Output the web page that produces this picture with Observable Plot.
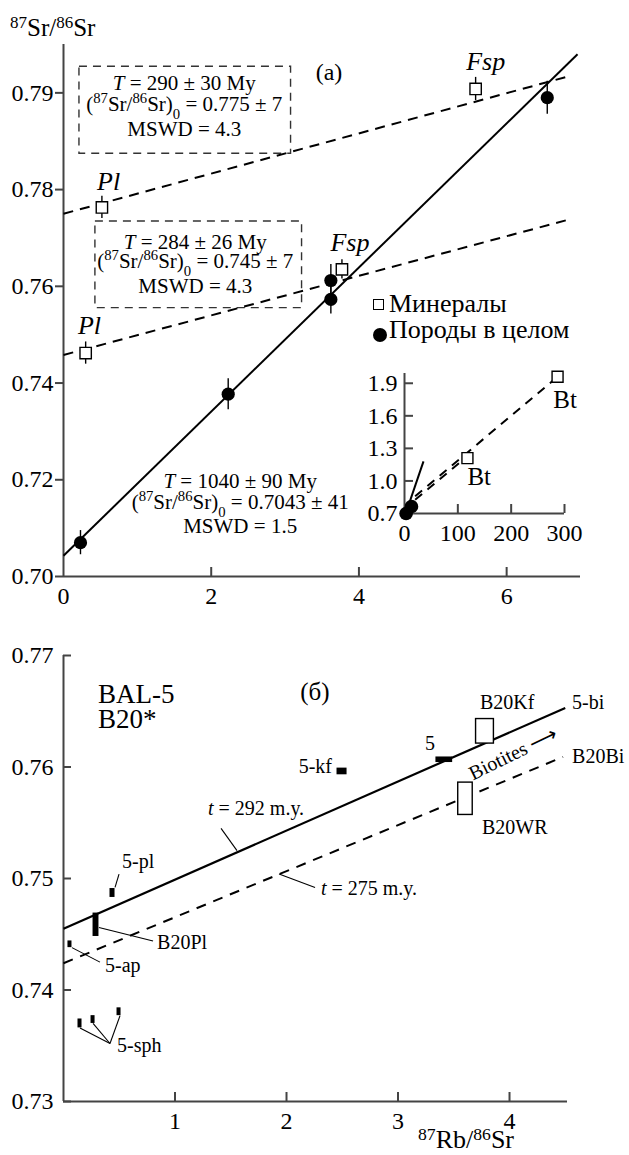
<!DOCTYPE html>
<html><head><meta charset="utf-8">
<script src="https://cdn.jsdelivr.net/npm/d3@7"></script>
<script src="https://cdn.jsdelivr.net/npm/@observablehq/plot@0.6"></script>
<style>
body{margin:0;background:#fff;}
#wrap{position:relative;width:629px;height:1155px;overflow:hidden;font-family:'Liberation Serif','Times New Roman',serif;color:#000;}
#wrap > *{position:absolute;}
.sup{font-size:0.68em;vertical-align:0.45em;line-height:0;}
.lg{font-size:26px;line-height:26px;white-space:nowrap;}
</style></head><body><div id="wrap"></div>
<script>
// ================= Panel (a): whole rocks & minerals =================
const rockX   = [0.23, 2.23, 3.62, 3.62, 6.55];
const rockY   = [0.7070, 0.7377, 0.7612, 0.7573, 0.7990];
const rockErr = [0.0025, 0.0032, 0.0033, 0.0030, 0.0034];

const minName = ["Pl", "Pl", "Fsp", "Fsp"];
const minX    = [0.52, 0.30, 3.77, 5.58];
const minY    = [0.7763, 0.7462, 0.7635, 0.8008];
const minErr  = [0.0023, 0.0023, 0.0020, 0.0024];
const minLabelX = [0.61, 0.351, 3.878, 5.716];
const minLabelY = [0.7800, 0.7501, 0.7674, 0.8047];

// isochrons (end points)
const isoKind = ["rock", "mineral", "mineral"];
const isoX1 = [0, 0, 0];
const isoY1 = [0.7043, 0.7750, 0.7458];
const isoX2 = [6.96, 6.81, 6.84];
const isoY2 = [0.8080, 0.8033, 0.7738];

// isochron result notes
const noteText = [
  "~{T} = 290 ± 30 My", "(^{87}Sr/^{86}Sr)_{0} = 0.775 ± 7", "MSWD = 4.3",
  "~{T} = 284 ± 26 My", "(^{87}Sr/^{86}Sr)_{0} = 0.745 ± 7", "MSWD = 4.3",
  "~{T} = 1040 ± 90 My", "(^{87}Sr/^{86}Sr)_{0} = 0.7043 ± 41", "MSWD = 1.5"];
const noteX = [1.635, 1.635, 1.635, 1.784, 1.784, 1.784, 2.392, 2.392, 2.392];
const noteY = [0.8006, 0.7963, 0.7911, 0.7678, 0.7637, 0.7586, 0.7184, 0.7140, 0.7089];
const boxX1 = [0.216, 0.432], boxX2 = [3.081, 3.230];
const boxY1 = [0.7874, 0.7555], boxY2 = [0.8054, 0.7734];

const aYTicks = [0.70, 0.72, 0.74, 0.76, 0.78, 0.80];
const aYTickLabels = ["0.70", "0.72", "0.74", "0.76", "0.78", "0.79"];
const aXLabels = [0, 2, 4, 6];
const aXTicks = [2, 4, 6];

// ================= Inset =================
const insRockX = [3, 13], insRockY = [0.70, 0.765];
const insBtX = [118, 287], insBtY = [1.21, 1.96];
const insBtLabelX = [118, 279], insBtLabelY = [0.959, 1.670];
const insKind = ["rock", "mineral", "mineral"];
const insX1 = [3, 20, 20], insY1 = [0.71, 0.827, 0.858];
const insX2 = [35.6, 108, 278], insY2 = [1.18, 1.188, 1.923];
const insYTicks = [0.7, 1.0, 1.3, 1.6, 1.9];
const insXLabels = [0, 100, 200, 300];
const insXTicks = [100, 200, 300];

// ================= Panel (б) =================
const bName   = ["5-pl", "B20Pl", "5-ap", "5-sph", "5-sph", "5-sph", "5-kf", "5", "B20Kf", "B20WR"];
const bX1     = [0.417, 0.265, 0.040, 0.130, 0.247, 0.480, 2.453, 3.340, 3.700, 3.540];
const bX2     = [0.462, 0.318, 0.076, 0.166, 0.283, 0.516, 2.543, 3.490, 3.860, 3.670];
const bY1     = [0.7483, 0.7448, 0.7438, 0.7366, 0.7370, 0.7377, 0.7593, 0.7604, 0.7621, 0.7557];
const bY2     = [0.7491, 0.7469, 0.7444, 0.7374, 0.7377, 0.7384, 0.7599, 0.7609, 0.7643, 0.7586];
const bFilled = [true, true, true, true, true, true, true, true, false, false];

const bLineKind = ["t=292", "t=275"];
const bLineX1 = [0, 0], bLineY1 = [0.7455, 0.7424];
const bLineX2 = [4.50, 4.48], bLineY2 = [0.7653, 0.7609];

const bTitleText = ["BAL-5", "B20*", "(б)"];
const bTitleX = [0.309, 0.309, 2.255], bTitleY = [0.7657, 0.7635, 0.7660];
const bTitleAnchor = ["start", "start", "middle"];

const bLabelText = ["5-kf", "5", "B20Kf", "5-bi", "B20Bi", "B20WR", "~{t} = 292 m.y.", "~{t} = 275 m.y.", "5-pl", "B20Pl", "5-ap", "5-sph"];
const bLabelX = [2.408, 3.287, 3.735, 4.561, 4.561, 3.753, 1.296, 2.309, 0.525, 0.839, 0.372, 0.480];
const bLabelY = [0.7595, 0.7615, 0.7652, 0.7652, 0.7604, 0.7540, 0.7557, 0.7485, 0.7509, 0.7437, 0.7416, 0.7344];
const bLabelAnchor = ["end", "middle", "start", "start", "start", "start", "start", "start", "start", "start", "start", "start"];

const leadX1 = [0.462, 0.318, 0.076, 0.148, 0.265, 0.507, 1.413, 1.933];
const leadY1 = [0.7492, 0.7456, 0.7438, 0.7366, 0.7370, 0.7377, 0.7545, 0.7504];
const leadX2 = [0.498, 0.803, 0.327, 0.417, 0.417, 0.417, 1.556, 2.256];
const leadY2 = [0.7504, 0.7444, 0.7425, 0.7352, 0.7352, 0.7352, 0.7525, 0.7492];

const bArrowText = "Biotites ⟶", bArrowX = 3.673, bArrowY = 0.7588;

const bYTicks = [0.73, 0.74, 0.75, 0.76, 0.77];
const bXTicks = [1, 2, 3, 4];

const legendLabels = ["Минералы", "Породы в целом"];

// ================= build tables =================
const rocks = rockX.map((x, i) => ({x, y: rockY[i], e: rockErr[i]}));
const minerals = minX.map((x, i) => ({name: minName[i], x, y: minY[i], e: minErr[i], lx: minLabelX[i], ly: minLabelY[i]}));
const isos = isoKind.map((k, i) => ({k, x1: isoX1[i], y1: isoY1[i], x2: isoX2[i], y2: isoY2[i]}));
const notes = noteText.map((t, i) => ({t, x: noteX[i], y: noteY[i]}));
const boxes = boxX1.map((x1, i) => ({x1, x2: boxX2[i], y1: boxY1[i], y2: boxY2[i]}));

const insRocks = insRockX.map((x, i) => ({x, y: insRockY[i]}));
const insBt = insBtX.map((x, i) => ({x, y: insBtY[i], lx: insBtLabelX[i], ly: insBtLabelY[i]}));
const insLines = insKind.map((k, i) => ({k, x1: insX1[i], y1: insY1[i], x2: insX2[i], y2: insY2[i]}));

const bSamples = bName.map((n, i) => ({n, x1: bX1[i], x2: bX2[i], y1: bY1[i], y2: bY2[i], f: bFilled[i]}));
const bLines = bLineKind.map((k, i) => ({k, x1: bLineX1[i], y1: bLineY1[i], x2: bLineX2[i], y2: bLineY2[i]}));
const bTitles = bTitleText.map((t, i) => ({t, x: bTitleX[i], y: bTitleY[i], a: bTitleAnchor[i]}));
const bLabels = bLabelText.map((t, i) => ({t, x: bLabelX[i], y: bLabelY[i], a: bLabelAnchor[i]}));
const leads = leadX1.map((x1, i) => ({x1, y1: leadY1[i], x2: leadX2[i], y2: leadY2[i]}));

// ================= helpers =================
const FONT = "'Liberation Serif','Times New Roman',serif";
const AX = "#444";
const NS = "http://www.w3.org/2000/svg";
function richText(root) {
  root.querySelectorAll("text, tspan").forEach(el => {
    if ([...el.childNodes].some(n => n.nodeType !== 3)) return;
    const s = el.textContent;
    if (!/[\^_~]\{/.test(s)) return;
    el.textContent = "";
    const re = /([\^_~])\{([^}]*)\}/g;
    let last = 0, m;
    while ((m = re.exec(s))) {
      if (m.index > last) el.appendChild(document.createTextNode(s.slice(last, m.index)));
      const ts = document.createElementNS(NS, "tspan");
      ts.textContent = m[2];
      if (m[1] === "^") { ts.setAttribute("baseline-shift", "super"); ts.setAttribute("font-size", "70%"); }
      else if (m[1] === "_") { ts.setAttribute("baseline-shift", "sub"); ts.setAttribute("font-size", "70%"); }
      else ts.setAttribute("font-style", "italic");
      el.appendChild(ts);
      last = re.lastIndex;
    }
    if (last < s.length) el.appendChild(document.createTextNode(s.slice(last)));
  });
}
const wrap = document.getElementById("wrap");
function place(el, left, top) { el.style.left = left + "px"; el.style.top = top + "px"; wrap.appendChild(el); return el; }

// ================= Plot A =================
const A_FW = 517, A_FH = 532;
const plotA = Plot.plot({
  width: 629, height: 615, marginLeft: 63, marginRight: 49, marginTop: 44, marginBottom: 39,
  style: {fontFamily: FONT, fontSize: "24px", background: "transparent", color: "#000", overflow: "visible"},
  x: {domain: [0, 7], label: null},
  y: {domain: [0.70, 0.81], label: null},
  marks: [
    Plot.ruleX([0], {stroke: AX, strokeWidth: 2}),
    Plot.ruleY([0.70], {stroke: AX, strokeWidth: 2}),
    Plot.axisY(aYTicks, {tickSize: 8, tickPadding: 2, stroke: AX, strokeWidth: 2, fontSize: 24, label: null,
      tickFormat: d => aYTickLabels[aYTicks.indexOf(d)]}),
    Plot.axisX(aXLabels, {tickSize: 0, tickPadding: 10, fontSize: 24, label: null, tickFormat: d => String(d)}),
    Plot.tickX(aXTicks, {x: d => d, insetTop: A_FH - 9, stroke: AX, strokeWidth: 2}),
    Plot.rect(boxes, {x1: "x1", x2: "x2", y1: "y1", y2: "y2", fill: "none", stroke: "#333", strokeWidth: 1.4, strokeDasharray: "8,6"}),
    Plot.link(isos.filter(d => d.k === "rock"), {x1: "x1", y1: "y1", x2: "x2", y2: "y2", stroke: "#000", strokeWidth: 2}),
    Plot.link(isos.filter(d => d.k === "mineral"), {x1: "x1", y1: "y1", x2: "x2", y2: "y2", stroke: "#000", strokeWidth: 2, strokeDasharray: "10,7"}),
    Plot.ruleX(rocks, {x: "x", y1: d => d.y - d.e, y2: d => d.y + d.e, stroke: "#000", strokeWidth: 1.4}),
    Plot.ruleX(minerals, {x: "x", y1: d => d.y - d.e, y2: d => d.y + d.e, stroke: "#000", strokeWidth: 1.4}),
    Plot.dot(rocks, {x: "x", y: "y", r: 6.6, fill: "#000", stroke: "none"}),
    Plot.dot(minerals, {x: "x", y: "y", r: 6.4, symbol: "square", fill: "#fff", stroke: "#000", strokeWidth: 1.4}),
    Plot.text(minerals, {x: "lx", y: "ly", text: "name", fontSize: 26, fontStyle: "italic", lineAnchor: "bottom", textAnchor: "middle", fill: "#000"}),
    Plot.text([{t: "(a)", x: 3.595, y: 0.8027}], {x: "x", y: "y", text: "t", fontSize: 24, lineAnchor: "bottom", textAnchor: "middle", fill: "#000"}),
    Plot.text(notes, {x: "x", y: "y", text: "t", fontSize: 21, lineAnchor: "bottom", textAnchor: "middle", fill: "#000"})
  ]
});
richText(plotA);
place(plotA, 0, 0);

// ================= Inset =================
const I_FW = 160, I_FH = 140;
const plotI = Plot.plot({
  width: 250, height: 190, marginLeft: 74, marginRight: 16, marginTop: 13, marginBottom: 37,
  style: {fontFamily: FONT, fontSize: "24px", background: "transparent", color: "#000", overflow: "visible"},
  x: {domain: [0, 300], label: null},
  y: {domain: [0.7, 1.99], label: null},
  marks: [
    Plot.ruleX([0], {stroke: AX, strokeWidth: 2}),
    Plot.ruleY([0.7], {stroke: AX, strokeWidth: 2}),
    Plot.axisY(insYTicks, {tickSize: 0, tickPadding: 7, fontSize: 24, label: null, tickFormat: d => d.toFixed(1)}),
    Plot.tickY(insYTicks, {y: d => d, insetRight: I_FW - 9, stroke: AX, strokeWidth: 2}),
    Plot.axisX(insXLabels, {tickSize: 0, tickPadding: 10, fontSize: 24, label: null, tickFormat: d => String(d)}),
    Plot.tickX(insXTicks, {x: d => d, insetTop: I_FH - 9, stroke: AX, strokeWidth: 2}),
    Plot.link(insLines.filter(d => d.k === "rock"), {x1: "x1", y1: "y1", x2: "x2", y2: "y2", stroke: "#000", strokeWidth: 2}),
    Plot.link(insLines.filter(d => d.k === "mineral"), {x1: "x1", y1: "y1", x2: "x2", y2: "y2", stroke: "#000", strokeWidth: 2, strokeDasharray: "9,7"}),
    Plot.dot(insRocks, {x: "x", y: "y", r: 6.8, fill: "#000", stroke: "none"}),
    Plot.dot(insBt, {x: "x", y: "y", r: 6.2, symbol: "square", fill: "#fff", stroke: "#000", strokeWidth: 1.4}),
    Plot.text(insBt, {x: "lx", y: "ly", text: () => "Bt", fontSize: 25, lineAnchor: "bottom", textAnchor: "start", fill: "#000"})
  ]
});
place(plotI, 330, 360);

// ================= Legend (HTML) =================
const lg1 = document.createElement("div");
lg1.style.cssText = "width:11px;height:11px;border:1.4px solid #000;background:#fff;box-sizing:border-box;";
place(lg1, 373, 299);
const lt1 = document.createElement("div"); lt1.className = "lg"; lt1.textContent = legendLabels[0];
place(lt1, 389, 291);
const lg2 = document.createElement("div");
lg2.style.cssText = "width:14px;height:14px;border-radius:50%;background:#000;";
place(lg2, 373, 328);
const lt2 = document.createElement("div"); lt2.className = "lg"; lt2.textContent = legendLabels[1];
place(lt2, 389, 317);

// y title panel (a)
const yt = document.createElement("div");
yt.style.cssText = "font-size:25px;line-height:25px;white-space:nowrap;";
yt.innerHTML = '<span class="sup">87</span>Sr/<span class="sup">86</span>Sr';
place(yt, 10, 15);

// ================= Plot B =================
const B_FW = 504, B_FH = 446;
const plotB = Plot.plot({
  width: 629, height: 540, marginLeft: 63, marginRight: 62, marginTop: 40, marginBottom: 54,
  style: {fontFamily: FONT, fontSize: "24px", background: "transparent", color: "#000", overflow: "visible"},
  x: {domain: [0, 4.52], label: null},
  y: {domain: [0.73, 0.77], label: null},
  marks: [
    Plot.ruleX([0], {stroke: AX, strokeWidth: 2}),
    Plot.ruleY([0.73], {stroke: AX, strokeWidth: 2}),
    Plot.axisY(bYTicks, {tickSize: 0, tickPadding: 10, fontSize: 24, label: null, tickFormat: d => d.toFixed(2)}),
    Plot.tickY(bYTicks, {y: d => d, insetRight: B_FW - 8, stroke: AX, strokeWidth: 2}),
    Plot.axisX(bXTicks, {tickSize: 0, tickPadding: 10, fontSize: 24, label: null, tickFormat: d => String(d)}),
    Plot.tickX(bXTicks, {x: d => d, insetTop: B_FH - 9, stroke: AX, strokeWidth: 2}),
    Plot.link(bLines.filter(d => d.k === "t=292"), {x1: "x1", y1: "y1", x2: "x2", y2: "y2", stroke: "#000", strokeWidth: 2.2}),
    Plot.link(bLines.filter(d => d.k === "t=275"), {x1: "x1", y1: "y1", x2: "x2", y2: "y2", stroke: "#000", strokeWidth: 2, strokeDasharray: "10,8"}),
    Plot.link(leads, {x1: "x1", y1: "y1", x2: "x2", y2: "y2", stroke: "#000", strokeWidth: 1.1}),
    Plot.rect(bSamples.filter(d => d.f), {x1: "x1", x2: "x2", y1: "y1", y2: "y2", fill: "#000"}),
    Plot.rect(bSamples.filter(d => !d.f), {x1: "x1", x2: "x2", y1: "y1", y2: "y2", fill: "#fff", stroke: "#000", strokeWidth: 1.4}),
    Plot.text(bTitles.filter(d => d.a === "start"), {x: "x", y: "y", text: "t", fontSize: 27, lineAnchor: "bottom", textAnchor: "start", fill: "#000"}),
    Plot.text(bTitles.filter(d => d.a === "middle"), {x: "x", y: "y", text: "t", fontSize: 25, lineAnchor: "bottom", textAnchor: "middle", fill: "#000"}),
    Plot.text(bLabels.filter(d => d.a === "start"), {x: "x", y: "y", text: "t", fontSize: 20, lineAnchor: "bottom", textAnchor: "start", fill: "#000"}),
    Plot.text(bLabels.filter(d => d.a === "middle"), {x: "x", y: "y", text: "t", fontSize: 20, lineAnchor: "bottom", textAnchor: "middle", fill: "#000"}),
    Plot.text(bLabels.filter(d => d.a === "end"), {x: "x", y: "y", text: "t", fontSize: 20, lineAnchor: "bottom", textAnchor: "end", fill: "#000"}),
    Plot.text([{t: bArrowText, x: bArrowX, y: bArrowY}], {x: "x", y: "y", text: "t", fontSize: 20, rotate: -26, lineAnchor: "bottom", textAnchor: "start", fill: "#000"})
  ]
});
richText(plotB);
place(plotB, 0, 615);

// x title panel (б)
const xt = document.createElement("div");
xt.style.cssText = "font-size:26px;line-height:26px;white-space:nowrap;width:200px;text-align:center;";
xt.innerHTML = '<span class="sup">87</span>Rb/<span class="sup">86</span>Sr';
place(xt, 366, 1127);
</script>
</body></html>
